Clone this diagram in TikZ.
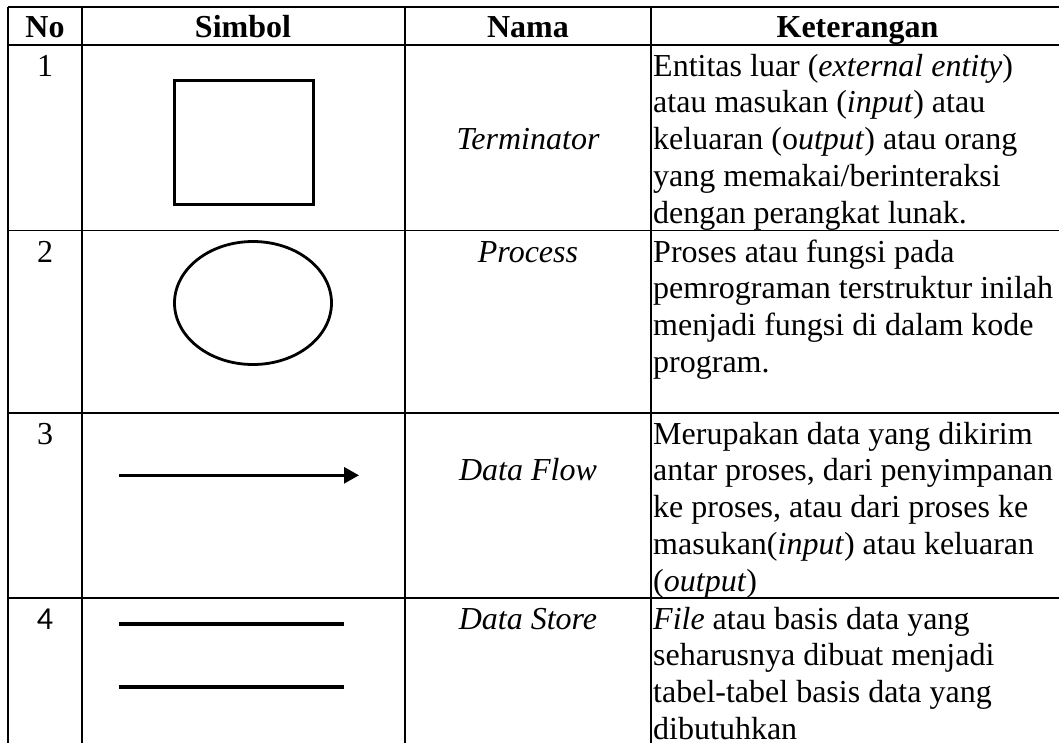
\documentclass[tikz,border=0pt]{standalone}
\usepackage{fontspec}
\setmainfont{Liberation Serif}
\newfontfamily\digitfont{Carlito}
\usetikzlibrary{arrows.meta,shapes.geometric}
\begin{document}
\begin{tikzpicture}[x=1pt,y=-1pt,
  grid/.style={line width=1.3pt, black},
  symline/.style={line width=2.8pt, black},
  storeline/.style={line width=4pt, black},
  cell/.style={inner sep=0pt, font=\fontsize{32}{36.8}\selectfont},
  head/.style={cell, font=\fontsize{32}{36.8}\selectfont\bfseries, anchor=base},
  num/.style={cell, anchor=base},
  nama/.style={cell, font=\fontsize{32}{36.8}\selectfont\itshape, anchor=base},
  ket/.style={cell, anchor=base west}]

\useasboundingbox (0,0) rectangle (1059,742);
\clip (0,0) rectangle (1059,742);

% table rules
\foreach \y in {7,45,230.5,413,598}
  \draw[grid] (8,\y) -- (1064,\y);
\foreach \x in {8,82,405,651,1064}
  \draw[grid] (\x,7) -- (\x,750);

% header
\node[head] (hno)   at (45,37)  {No};
\node[head] (hsym)  at (243,37) {Simbol};
\node[head] (hnama) at (528,37) {Nama};
\node[head] (hket)  at (857.5,37) {Keterangan};

% row numbers
\node[num] (n1) at (45,76)  {1};
\node[num] (n2) at (45,262) {2};
\node[num] (n3) at (45,444) {3};
\node[num, font=\fontsize{32}{36.8}\digitfont] (n4) at (45,629) {4};

% symbols
\node[draw, symline, rectangle, inner sep=0pt,
      minimum width=139pt, minimum height=124pt] (term) at (244,142.5) {};
\node[draw, symline, ellipse, inner sep=0pt,
      minimum width=157pt, minimum height=123pt] (proc) at (253,303) {};
\coordinate (flowA) at (119,475.3);
\coordinate (flowB) at (359,475.3);
\draw[symline, -{Triangle[length=15pt,width=16pt]}] (flowA) -- (flowB);
\coordinate (storeA1) at (119,624);
\coordinate (storeB1) at (344,624);
\coordinate (storeA2) at (119,687);
\coordinate (storeB2) at (344,687);
\draw[storeline] (storeA1) -- (storeB1);
\draw[storeline] (storeA2) -- (storeB2);

% names
\node[nama] (m1) at (528,149.6) {Terminator};
\node[nama] (m2) at (528,262)   {Process};
\node[nama] (m3) at (528,480.8) {Data Flow};
\node[nama] (m4) at (528,629)   {Data Store};

% descriptions
\foreach \t [count=\i] in {{Entitas luar (\textit{external entity})},
    {atau masukan (\textit{input}) atau},
    {keluaran (o\textit{utput}) atau orang},
    {yang memakai/berinteraksi},
    {dengan perangkat lunak.}}
  \node[ket] (ka\i) at (653,{76+(\i-1)*36.8}) {\t};

\foreach \t [count=\i] in {{Proses atau fungsi pada},
    {pemrograman terstruktur inilah},
    {menjadi fungsi di dalam kode},
    {program.}}
  \node[ket] (kb\i) at (653,{262+(\i-1)*36.8}) {\t};

\foreach \t [count=\i] in {{Merupakan data yang dikirim},
    {antar proses, dari penyimpanan},
    {ke proses, atau dari proses ke},
    {masukan(\textit{input}) atau keluaran},
    {(\textit{output})}}
  \node[ket] (kc\i) at (653,{444+(\i-1)*36.8}) {\t};

\foreach \t [count=\i] in {{\textit{File} atau basis data yang},
    {seharusnya dibuat menjadi},
    {tabel-tabel basis data yang},
    {dibutuhkan}}
  \node[ket] (kd\i) at (653,{629+(\i-1)*36.8}) {\t};
\end{tikzpicture}
\end{document}
